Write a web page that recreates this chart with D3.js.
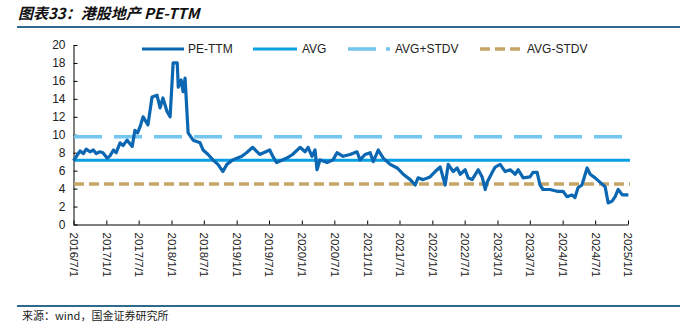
<!DOCTYPE html>
<html>
<head>
<meta charset="utf-8">
<script src="https://cdn.jsdelivr.net/npm/d3@7"></script>
<style>
  body { margin: 0; background: #fff; }
  svg { display: block; }
</style>
</head>
<body>
<div id="chart"></div>
<script>
// PE-TTM series (date, value)
var peDates = [
  "2016-07-01", "2016-07-08", "2016-08-07", "2016-08-25", "2016-09-10", "2016-10-01", "2016-10-20",
  "2016-11-05", "2016-11-25", "2016-12-13",
  "2017-01-05", "2017-01-20", "2017-02-10", "2017-02-25", "2017-03-19", "2017-04-05", "2017-04-27",
  "2017-05-26", "2017-06-10", "2017-06-25", "2017-07-09",
  "2017-07-26", "2017-08-22", "2017-09-14", "2017-10-12", "2017-10-29", "2017-11-14", "2017-12-07",
  "2017-12-24", "2018-01-04", "2018-01-10", "2018-02-02", "2018-02-08", "2018-02-24", "2018-03-07",
  "2018-03-18", "2018-03-30", "2018-04-04", "2018-05-02", "2018-06-10", "2018-06-27", "2018-07-25",
  "2018-08-21", "2018-09-18", "2018-10-16", "2018-11-07", "2018-12-10", "2019-01-30", "2019-02-25",
  "2019-04-01", "2019-04-20", "2019-05-10", "2019-07-05", "2019-07-25", "2019-08-13", "2019-10-09",
  "2019-11-10", "2019-12-22", "2020-01-19", "2020-02-05",
  "2020-02-27", "2020-03-15", "2020-03-26", "2020-04-12", "2020-05-21", "2020-06-24", "2020-07-16",
  "2020-08-19", "2020-09-27", "2020-11-05", "2020-11-22", "2020-12-20", "2021-01-18", "2021-02-04",
  "2021-03-04", "2021-04-01", "2021-05-10", "2021-06-18", "2021-07-22", "2021-08-30", "2021-09-27",
  "2021-10-13", "2021-11-10", "2021-12-19", "2022-01-17", "2022-02-14", "2022-03-14", "2022-03-31",
  "2022-04-28", "2022-05-20", "2022-06-06", "2022-07-04", "2022-07-21", "2022-08-12", "2022-09-15",
  "2022-10-07", "2022-10-24", "2022-11-04", "2022-12-02", "2022-12-19", "2023-01-16", "2023-02-13",
  "2023-03-13", "2023-04-10", "2023-04-27", "2023-05-25", "2023-07-02", "2023-07-19", "2023-08-11",
  "2023-08-27", "2023-09-13", "2023-10-22", "2023-11-30", "2024-01-03", "2024-01-25", "2024-02-22",
  "2024-03-10", "2024-03-27", "2024-04-18", "2024-05-17", "2024-06-03", "2024-07-01", "2024-07-29",
  "2024-08-26", "2024-09-12", "2024-10-04", "2024-10-21", "2024-11-07", "2024-11-30", "2025-01-03"
]
var peValues = [
  7.1, 7.3, 8.2, 7.9, 8.4, 8.1, 8.3,
  7.9, 8.1, 8.0,
  7.4, 7.6, 8.3, 8.0, 9.1, 8.8, 9.4,
  8.7, 10.5, 10.2, 10.9,
  12.0, 11.1, 14.2, 14.4, 13.0, 14.1, 12.6,
  12.0, 15.8, 18.0, 18.0, 15.3, 16.1, 14.8,
  16.3, 12.0, 10.2, 9.4, 9.1, 8.3, 7.8,
  7.2, 6.7, 5.9, 6.7, 7.2, 7.6, 8.0,
  8.6, 8.2, 7.8, 8.3, 7.5, 6.9, 7.4,
  7.8, 8.6, 8.1, 8.6,
  7.6, 8.3, 6.1, 7.2, 6.9, 7.2, 8.0,
  7.6, 7.8, 8.1, 7.2, 7.8, 8.0, 7.0,
  8.3, 7.4, 6.7, 6.3, 5.6, 5.0, 4.4,
  5.2, 5.0, 5.3, 5.9, 6.4, 4.4, 6.7,
  5.9, 6.3, 5.6, 6.1, 5.2, 5.0, 6.1,
  5.3, 3.9, 4.7, 5.8, 6.4, 6.7, 5.9,
  6.1, 5.6, 6.1, 5.2, 5.3, 5.8, 5.8,
  4.4, 3.9, 3.9, 3.7, 3.7, 3.1, 3.3,
  3.0, 4.1, 4.4, 6.3, 5.6, 5.2, 4.7,
  4.2, 2.4, 2.6, 3.1, 3.9, 3.3, 3.3
]
var avgValue = 7.15
var stdvValue = 2.63

var yTicks = [0, 2, 4, 6, 8, 10, 12, 14, 16, 18, 20]
var xTickDates = [
  "2016-07-01", "2017-01-01", "2017-07-01", "2018-01-01", "2018-07-01", "2019-01-01",
  "2019-07-01", "2020-01-01", "2020-07-01", "2021-01-01", "2021-07-01", "2022-01-01",
  "2022-07-01", "2023-01-01", "2023-07-01", "2024-01-01", "2024-07-01", "2025-01-01"
]
var seriesNames = ["PE-TTM", "AVG", "AVG+STDV", "AVG-STDV"]

var colors = {
  pe: "#0b67b2",
  avg: "#0aa0e4",
  hi: "#72c6f0",
  lo: "#c5a667"
}

var W = 695, H = 325
var parse = d3.timeParse("%Y-%m-%d")
var data = peDates.map(function (d, i) { return { date: parse(d), value: peValues[i] } })

var svg = d3.select("#chart").append("svg")
  .attr("width", W)
  .attr("height", H)
  .style("font-family", "Arial, 'Liberation Sans', sans-serif")

// header: title + rule
svg.append("text")
  .attr("x", 18)
  .attr("y", 19)
  .attr("font-family", "'Noto Sans CJK SC', sans-serif")
  .attr("font-weight", "bold")
  .attr("font-style", "italic")
  .attr("font-size", 15)
  .attr("fill", "#111")
  .text("图表33：港股地产 PE-TTM")

svg.append("line")
  .attr("x1", 17).attr("x2", 680)
  .attr("y1", 27).attr("y2", 27)
  .attr("stroke", "#2f6a8c")
  .attr("stroke-width", 2)

// footer
svg.append("line")
  .attr("x1", 17).attr("x2", 680)
  .attr("y1", 306).attr("y2", 306)
  .attr("stroke", "#2f6a8c")
  .attr("stroke-width", 2)

svg.append("text")
  .attr("x", 22)
  .attr("y", 320)
  .attr("font-family", "'Noto Sans CJK SC', sans-serif")
  .attr("font-size", 11)
  .attr("fill", "#222")
  .text("来源：wind，国金证券研究所")

// scales
var x = d3.scaleTime()
  .domain([parse("2016-07-01"), parse("2025-01-01")])
  .range([73.5, 628])

var y = d3.scaleLinear()
  .domain([0, 20])
  .range([224.5, 45])

// axes
var yAxis = d3.axisLeft(y).tickValues(yTicks).tickSizeInner(-4).tickSizeOuter(0).tickPadding(8)
var gy = svg.append("g").attr("transform", "translate(73.5,0)").call(yAxis)
gy.select(".domain").attr("stroke", "#000")
gy.selectAll(".tick line").attr("stroke", "#000")
gy.selectAll(".tick text").attr("font-size", 12).attr("fill", "#222")
  .attr("font-family", "Arial, 'Liberation Sans', sans-serif")

var xAxis = d3.axisBottom(x)
  .tickValues(xTickDates.map(parse))
  .tickSizeInner(-4).tickSizeOuter(0)
  .tickFormat(d3.timeFormat("%Y/%-m/%-d"))
var gx = svg.append("g").attr("transform", "translate(0,224.5)").call(xAxis)
gx.select(".domain").attr("stroke", "#000")
gx.selectAll(".tick line").attr("stroke", "#000")
gx.selectAll(".tick text")
  .attr("font-size", 11.5).attr("fill", "#222")
  .attr("font-family", "Arial, 'Liberation Sans', sans-serif")
  .attr("transform", "rotate(90)")
  .attr("x", 8).attr("y", 0).attr("dy", "0.35em")
  .style("text-anchor", "start")

// reference lines
var refs = [
  { v: avgValue + stdvValue, color: colors.hi, width: 3.5, dash: "28,12" },
  { v: avgValue - stdvValue, color: colors.lo, width: 3.5, dash: "10,5" },
  { v: avgValue, color: colors.avg, width: 3, dash: null }
]
svg.selectAll(".ref").data(refs).enter().append("line")
  .attr("class", "ref")
  .attr("x1", 74).attr("x2", 630)
  .attr("y1", function (d) { return y(d.v) })
  .attr("y2", function (d) { return y(d.v) })
  .attr("stroke", function (d) { return d.color })
  .attr("stroke-width", function (d) { return d.width })
  .attr("stroke-dasharray", function (d) { return d.dash })

// PE-TTM line
var line = d3.line()
  .x(function (d) { return x(d.date) })
  .y(function (d) { return y(d.value) })

svg.append("path")
  .datum(data)
  .attr("fill", "none")
  .attr("stroke", colors.pe)
  .attr("stroke-width", 3.2)
  .attr("stroke-linejoin", "round")
  .attr("d", line)

// legend
var legendItems = [
  { name: seriesNames[0], x1: 142, x2: 184, color: colors.pe, width: 3, dash: null, tx: 188 },
  { name: seriesNames[1], x1: 253, x2: 297, color: colors.avg, width: 3, dash: null, tx: 302 },
  { name: seriesNames[2], x1: 348, x2: 390, color: colors.hi, width: 3.5, dash: "28,10", tx: 395 },
  { name: seriesNames[3], x1: 480, x2: 520, color: colors.lo, width: 3.5, dash: "10,5", tx: 527 }
]
var lg = svg.append("g").attr("class", "legend")
lg.selectAll("line").data(legendItems).enter().append("line")
  .attr("x1", function (d) { return d.x1 })
  .attr("x2", function (d) { return d.x2 })
  .attr("y1", 49).attr("y2", 49)
  .attr("stroke", function (d) { return d.color })
  .attr("stroke-width", function (d) { return d.width })
  .attr("stroke-dasharray", function (d) { return d.dash })
lg.selectAll("text").data(legendItems).enter().append("text")
  .attr("x", function (d) { return d.tx })
  .attr("y", 49)
  .attr("dy", "0.35em")
  .attr("font-size", 12)
  .attr("fill", "#222")
  .text(function (d) { return d.name })
</script>
</body>
</html>
